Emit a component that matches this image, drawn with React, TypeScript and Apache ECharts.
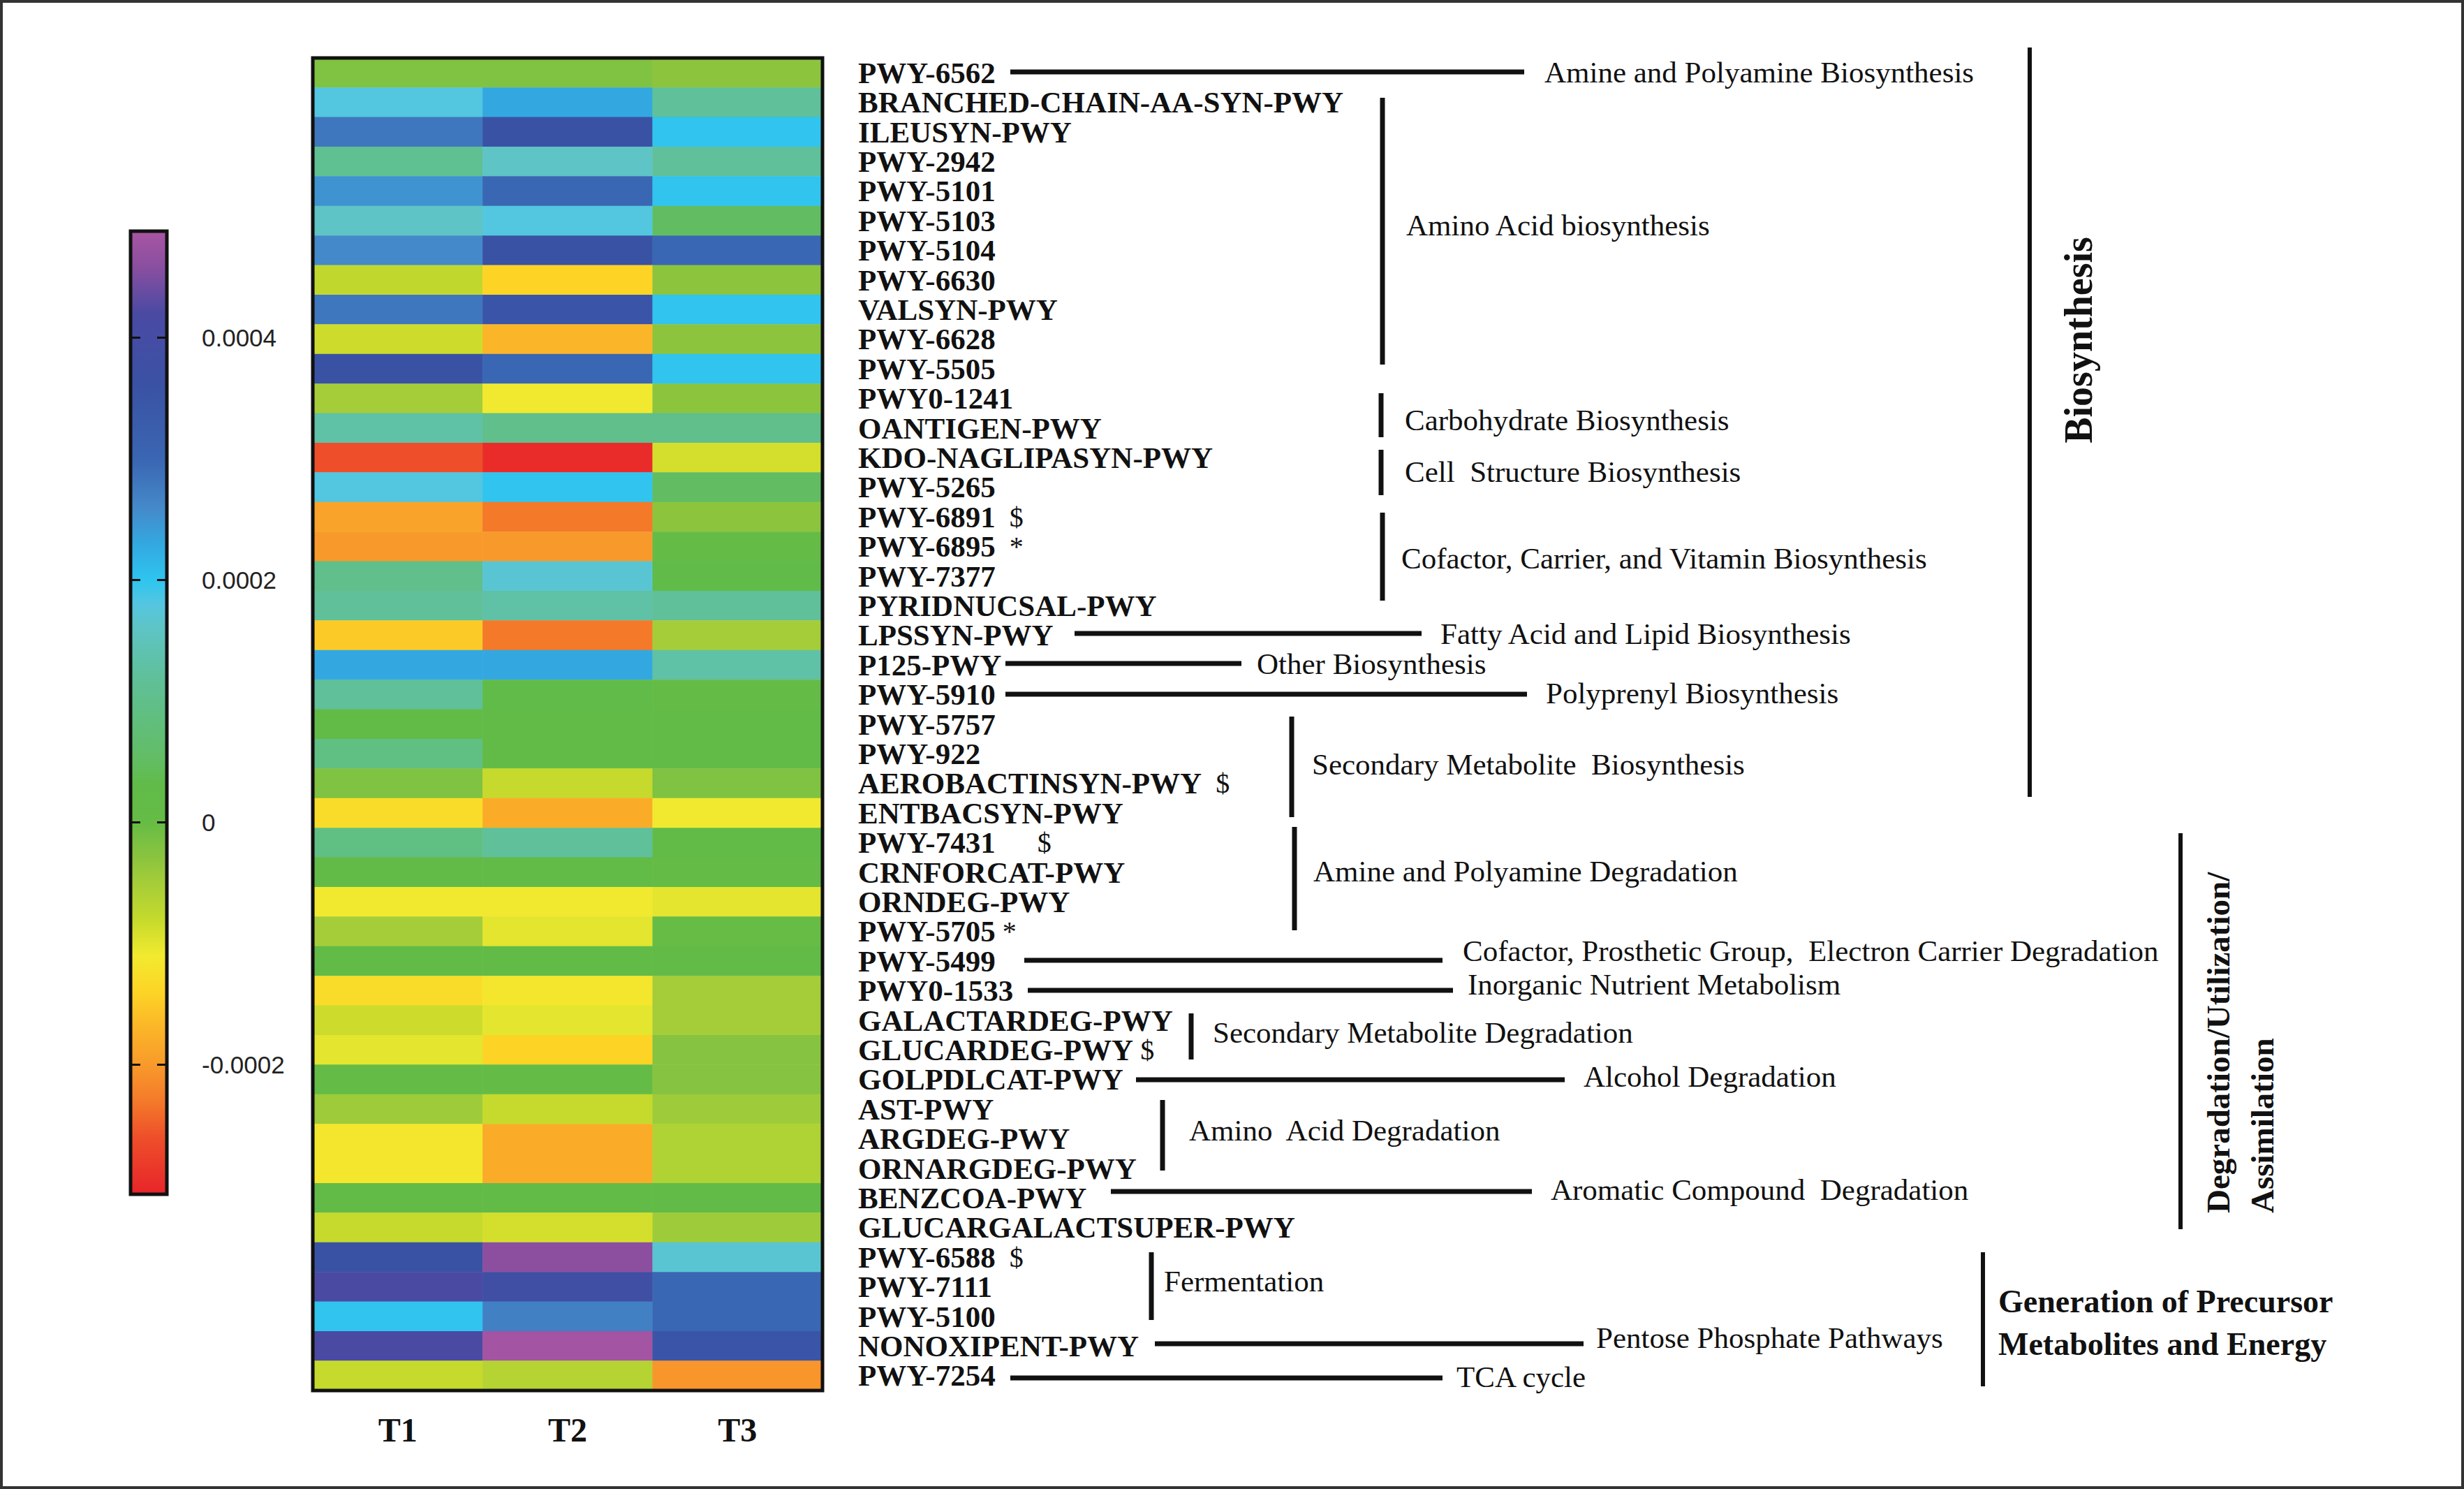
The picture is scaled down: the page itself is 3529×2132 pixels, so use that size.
import React, { useEffect, useRef } from 'react';
import * as echarts from 'echarts';

// ---------------- data ----------------
const PATHWAYS = [
  'PWY-6562', 'BRANCHED-CHAIN-AA-SYN-PWY', 'ILEUSYN-PWY', 'PWY-2942', 'PWY-5101',
  'PWY-5103', 'PWY-5104', 'PWY-6630', 'VALSYN-PWY', 'PWY-6628',
  'PWY-5505', 'PWY0-1241', 'OANTIGEN-PWY', 'KDO-NAGLIPASYN-PWY', 'PWY-5265',
  'PWY-6891', 'PWY-6895', 'PWY-7377', 'PYRIDNUCSAL-PWY', 'LPSSYN-PWY',
  'P125-PWY', 'PWY-5910', 'PWY-5757', 'PWY-922', 'AEROBACTINSYN-PWY',
  'ENTBACSYN-PWY', 'PWY-7431', 'CRNFORCAT-PWY', 'ORNDEG-PWY', 'PWY-5705',
  'PWY-5499', 'PWY0-1533', 'GALACTARDEG-PWY', 'GLUCARDEG-PWY', 'GOLPDLCAT-PWY',
  'AST-PWY', 'ARGDEG-PWY', 'ORNARGDEG-PWY', 'BENZCOA-PWY', 'GLUCARGALACTSUPER-PWY',
  'PWY-6588', 'PWY-7111', 'PWY-5100', 'NONOXIPENT-PWY', 'PWY-7254',
];

// significance markers appended after some pathway names
const MARKERS = [
  '', '', '', '', '', '', '', '', '', '',
  '', '', '', '', '', '  $', '  *', '', '', '',
  '', '', '', '', '  $', '', '      $', '', '', ' *',
  '', '', '', ' $', '', '', '', '', '', '',
  '  $', '', '', '', '',
];

const CONDITIONS = ['T1', 'T2', 'T3'];

const T1 = [
  -0.00002, 0.00018, 0.00028, 0.00011, 0.00025, 0.00016, 0.00026, -0.000075, 0.00028, -0.000085,
  0.00036, -0.00005, 0.00013, -0.00026, 0.00018, -0.00019, -0.0002, 0.0001, 0.00012, -0.00015,
  0.00023, 0.00012, 0.00002, 0.00009, -0.00002, -0.00013, 0.00009, 0.00002, -0.00011, -0.00005,
  0.00002, -0.00013, -0.000085, -0.0001, 0.00001, -0.000045, -0.000115, -0.000115, 0.00002, -0.00008,
  0.00036, 0.00042, 0.0002, 0.00042, -0.00008,
];
const T2 = [
  -0.00002, 0.00023, 0.00036, 0.00016, 0.0003, 0.00018, 0.00036, -0.00014, 0.00035, -0.00017,
  0.0003, -0.00011, 0.0001, -0.0003, 0.0002, -0.00023, -0.0002, 0.00017, 0.00013, -0.00023,
  0.00023, 0.00003, 0.00002, 0.00002, -0.00008, -0.00018, 0.00012, 0.00002, -0.00011, -0.0001,
  0.00002, -0.000115, -0.0001, -0.00014, 0.00001, -0.00008, -0.00018, -0.00018, 0.00002, -0.00009,
  0.00046, 0.00038, 0.00027, 0.000485, -0.000065,
];
const T3 = [
  -0.00003, 0.00012, 0.0002, 0.00012, 0.0002, 0.00005, 0.0003, -0.00003, 0.0002, -0.00003,
  0.0002, -0.00003, 0.0001, -0.00009, 0.00005, -0.00003, 0.00001, 0.00003, 0.00012, -0.00005,
  0.00013, 0.00001, 0.00002, 0.00002, -0.00002, -0.00011, 0.00002, 0.00001, -0.0001, 0.0,
  0.00002, -0.00005, -0.00005, -0.000025, -0.000025, -0.000045, -0.00006, -0.00006, 0.00002, -0.000045,
  0.00017, 0.0003, 0.0003, 0.00035, -0.000205,
];

const COLORBAR_MIN = -0.000307;
const COLORBAR_MAX = 0.000488;
const COLORBAR_TICKS = [-0.0002, 0, 0.0002, 0.0004];

// ---------------- style ----------------
const COLOR_STOPS: [number, string][] = [
  [-0.00031, '#e8242a'],
  [-0.00026, '#ee4f2a'],
  [-0.00023, '#f47a2a'],
  [-0.0002, '#f89a2b'],
  [-0.00017, '#fbb528'],
  [-0.00014, '#fdd426'],
  [-0.00011, '#f2ea2f'],
  [-0.00008, '#c5da2c'],
  [-0.00005, '#a5cd39'],
  [-0.00003, '#8cc43e'],
  [-0.00002, '#80c241'],
  [0.0, '#66bc45'],
  [0.00003, '#60bb48'],
  [0.00005, '#62bd62'],
  [0.0001, '#60bf8a'],
  [0.00012, '#5fc09a'],
  [0.00016, '#5ec4c5'],
  [0.00018, '#55c6e0'],
  [0.0002, '#2ec5f0'],
  [0.00023, '#33a8e0'],
  [0.00026, '#4589c9'],
  [0.0003, '#3a66b2'],
  [0.00036, '#3a52a4'],
  [0.00042, '#4a4aa3'],
  [0.00046, '#8c4fa0'],
  [0.00049, '#a855a3'],
];

const SERIF = '"Liberation Serif", "Times New Roman", serif';
const SANS = '"Liberation Sans", Arial, sans-serif';
const INK = '#111';

function hexToRgb(h: string) {
  const n = parseInt(h.slice(1), 16);
  return [(n >> 16) & 255, (n >> 8) & 255, n & 255];
}
function colorAt(v: number) {
  if (v <= COLOR_STOPS[0][0]) return COLOR_STOPS[0][1];
  for (let i = 1; i < COLOR_STOPS.length; i++) {
    const [v1, c1] = COLOR_STOPS[i];
    if (v <= v1) {
      const [v0, c0] = COLOR_STOPS[i - 1];
      const t = (v - v0) / (v1 - v0);
      const a = hexToRgb(c0), b = hexToRgb(c1);
      const r = a.map((x, k) => Math.round(x + (b[k] - x) * t));
      return `rgb(${r[0]},${r[1]},${r[2]})`;
    }
  }
  return COLOR_STOPS[COLOR_STOPS.length - 1][1];
}

// layout
const HM = { left: 448, top: 83, width: 730, height: 1908 };
const CB = { left: 187, top: 331, width: 52, height: 1379 };

const LINE_ANNOTATIONS = [
  { x1: 1447, x2: 2183, y: 103, label: 'Amine and Polyamine Biosynthesis', lx: 2212, ly: 103 },
  { x1: 1539, x2: 2036, y: 907, label: 'Fatty Acid and Lipid Biosynthesis', lx: 2063, ly: 907 },
  { x1: 1440, x2: 1778, y: 950, label: 'Other Biosynthesis', lx: 1800, ly: 950 },
  { x1: 1440, x2: 2187, y: 994, label: 'Polyprenyl Biosynthesis', lx: 2214, ly: 992 },
  { x1: 1467, x2: 2066, y: 1375, label: 'Cofactor, Prosthetic Group,  Electron Carrier Degradation', lx: 2095, ly: 1361 },
  { x1: 1472, x2: 2081, y: 1418, label: 'Inorganic Nutrient Metabolism', lx: 2102, ly: 1409 },
  { x1: 1627, x2: 2241, y: 1546, label: 'Alcohol Degradation', lx: 2268, ly: 1541 },
  { x1: 1591, x2: 2194, y: 1706, label: 'Aromatic Compound  Degradation', lx: 2221, ly: 1703 },
  { x1: 1654, x2: 2268, y: 1924, label: 'Pentose Phosphate Pathways', lx: 2286, ly: 1915 },
  { x1: 1447, x2: 2066, y: 1973, label: 'TCA cycle', lx: 2086, ly: 1971 },
];

const BRACKET_ANNOTATIONS = [
  { x: 1980, y1: 140, y2: 522, label: 'Amino Acid biosynthesis', lx: 2014, ly: 322 },
  { x: 1978, y1: 563, y2: 626, label: 'Carbohydrate Biosynthesis', lx: 2012, ly: 601 },
  { x: 1978, y1: 644, y2: 709, label: 'Cell  Structure Biosynthesis', lx: 2012, ly: 675 },
  { x: 1980, y1: 734, y2: 860, label: 'Cofactor, Carrier, and Vitamin Biosynthesis', lx: 2007, ly: 799 },
  { x: 1850, y1: 1026, y2: 1170, label: 'Secondary Metabolite  Biosynthesis', lx: 1879, ly: 1094 },
  { x: 1854, y1: 1184, y2: 1332, label: 'Amine and Polyamine Degradation', lx: 1881, ly: 1247 },
  { x: 1706, y1: 1451, y2: 1517, label: 'Secondary Metabolite Degradation', lx: 1737, ly: 1478 },
  { x: 1665, y1: 1575, y2: 1676, label: 'Amino  Acid Degradation', lx: 1703, ly: 1618 },
  { x: 1649, y1: 1793, y2: 1890, label: 'Fermentation', lx: 1667, ly: 1834 },
];

export default function App() {
  const ref = useRef<HTMLDivElement>(null);

  useEffect(() => {
    if (!ref.current) return;
    const chart = echarts.init(ref.current, undefined, { renderer: 'svg' });

    const heatData: [number, number, number][] = [];
    const cols = [T1, T2, T3];
    PATHWAYS.forEach((_, i) => {
      cols.forEach((col, j) => heatData.push([j, i, col[i]]));
    });

    const N = 200;
    const mapColors: string[] = [];
    for (let k = 0; k <= N; k++) {
      mapColors.push(colorAt(COLORBAR_MIN + (k * (COLORBAR_MAX - COLORBAR_MIN)) / N));
    }
    const gradStops = COLOR_STOPS
      .map(([v, c]) => ({ offset: Math.min(1, Math.max(0, (COLORBAR_MAX - v) / (COLORBAR_MAX - COLORBAR_MIN))), color: c }))
      .sort((a, b) => a.offset - b.offset);

    const graphics: any[] = [];
    graphics.push({
      type: 'rect', z: 100, silent: true,
      shape: { x: 2, y: 2, width: 3525, height: 2128 },
      style: { fill: 'none', stroke: '#333', lineWidth: 4 },
    });
    graphics.push({
      type: 'rect', z: 100, silent: true,
      shape: { x: HM.left, y: HM.top, width: HM.width, height: HM.height },
      style: { fill: 'none', stroke: INK, lineWidth: 5 },
    });
    const textStyle = (text: string, size: number, weight: string, align = 'left') => ({
      text, fontSize: size, fontFamily: SERIF, fontWeight: weight, fill: INK,
      align, verticalAlign: 'middle',
    });
    LINE_ANNOTATIONS.forEach((a) => {
      graphics.push({ type: 'line', z: 100, shape: { x1: a.x1, y1: a.y, x2: a.x2, y2: a.y }, style: { stroke: INK, lineWidth: 7 } });
      graphics.push({ type: 'text', z: 100, x: a.lx, y: a.ly, style: textStyle(a.label, 43, 'normal') });
    });
    BRACKET_ANNOTATIONS.forEach((a) => {
      graphics.push({ type: 'line', z: 100, shape: { x1: a.x, y1: a.y1, x2: a.x, y2: a.y2 }, style: { stroke: INK, lineWidth: 7 } });
      graphics.push({ type: 'text', z: 100, x: a.lx, y: a.ly, style: textStyle(a.label, 43, 'normal') });
    });
    // major category brackets
    graphics.push({ type: 'line', z: 100, shape: { x1: 2907, y1: 68, x2: 2907, y2: 1141 }, style: { stroke: INK, lineWidth: 6 } });
    graphics.push({ type: 'text', z: 100, x: 2977, y: 487, rotation: Math.PI / 2, style: textStyle('Biosynthesis', 56, 'bold', 'center') });
    graphics.push({ type: 'line', z: 100, shape: { x1: 3123, y1: 1193, x2: 3123, y2: 1760 }, style: { stroke: INK, lineWidth: 6 } });
    graphics.push({ type: 'text', z: 100, x: 3177, y: 1737, rotation: Math.PI / 2, style: textStyle('Degradation/Utilization/', 47, 'bold', 'left') });
    graphics.push({ type: 'text', z: 100, x: 3240, y: 1737, rotation: Math.PI / 2, style: textStyle('Assimilation', 47, 'bold', 'left') });
    graphics.push({ type: 'line', z: 100, shape: { x1: 2840, y1: 1793, x2: 2840, y2: 1985 }, style: { stroke: INK, lineWidth: 6 } });
    graphics.push({ type: 'text', z: 100, x: 2862, y: 1863, style: textStyle('Generation of Precursor', 46, 'bold') });
    graphics.push({ type: 'text', z: 100, x: 2862, y: 1924, style: textStyle('Metabolites and Energy', 46, 'bold') });

    const tickFmt = (v: number) => (Math.abs(v) < 1e-12 ? '0' : v.toFixed(4));

    chart.setOption({
      animation: false,
      backgroundColor: '#ffffff',
      grid: [
        { left: HM.left, top: HM.top, width: HM.width, height: HM.height },
        { left: CB.left, top: CB.top, width: CB.width, height: CB.height },
      ],
      xAxis: [
        {
          gridIndex: 0, type: 'category', data: CONDITIONS, position: 'bottom',
          axisLine: { show: false }, axisTick: { show: false }, splitLine: { show: false },
          axisLabel: { fontFamily: SERIF, fontWeight: 'bold', fontSize: 48, color: INK, margin: 32 },
        },
        { gridIndex: 1, type: 'value', min: 0, max: 1, show: false },
      ],
      yAxis: [
        {
          gridIndex: 0, type: 'category', data: PATHWAYS, inverse: true, position: 'right',
          axisLine: { show: false }, axisTick: { show: false }, splitLine: { show: false },
          axisLabel: {
            interval: 0, hideOverlap: false,
            fontFamily: SERIF, fontWeight: 'bold', fontSize: 43, color: INK, margin: 51, align: 'left',
            formatter: (value: string, index: number) =>
              MARKERS[index] ? `${value}{m|${MARKERS[index]}}` : value,
            rich: { m: { fontFamily: SERIF, fontWeight: 'normal', fontSize: 40, color: INK } },
          },
        },
        {
          gridIndex: 1, type: 'value', min: COLORBAR_MIN, max: COLORBAR_MAX, position: 'left', z: 10,
          axisLine: { show: false }, splitLine: { show: false },
          axisTick: { show: true, inside: true, length: 14, lineStyle: { color: INK, width: 3 }, customValues: COLORBAR_TICKS },
          axisLabel: { show: false, customValues: COLORBAR_TICKS },
        },
        {
          gridIndex: 1, type: 'value', min: COLORBAR_MIN, max: COLORBAR_MAX, position: 'right', z: 10,
          axisLine: { show: false }, splitLine: { show: false },
          axisTick: { show: true, inside: true, length: 14, lineStyle: { color: INK, width: 3 }, customValues: COLORBAR_TICKS },
          axisLabel: {
            show: true, customValues: COLORBAR_TICKS, formatter: tickFmt,
            fontFamily: SANS, fontSize: 35, color: '#222', margin: 50, align: 'left',
          },
        },
      ],
      visualMap: {
        type: 'continuous', show: false, seriesIndex: 0, dimension: 2,
        min: COLORBAR_MIN, max: COLORBAR_MAX,
        inRange: { color: mapColors },
      },
      series: [
        {
          type: 'heatmap', xAxisIndex: 0, yAxisIndex: 0, data: heatData,
          itemStyle: { borderWidth: 0 }, emphasis: { disabled: true }, progressive: 0,
        },
        {
          type: 'custom', xAxisIndex: 1, yAxisIndex: 1, z: 2, silent: true,
          data: [[0, COLORBAR_MAX]],
          renderItem: (params: any, api: any) => {
            const top = api.coord([0, COLORBAR_MAX]);
            const bottom = api.coord([0, COLORBAR_MIN]);
            const cs = params.coordSys;
            return {
              type: 'rect',
              shape: { x: cs.x, y: top[1], width: cs.width, height: bottom[1] - top[1] },
              style: {
                fill: new echarts.graphic.LinearGradient(0, 0, 0, 1, gradStops),
                stroke: INK, lineWidth: 5,
              },
            };
          },
        },
      ],
      graphic: { elements: graphics },
    });

    return () => chart.dispose();
  }, []);

  return (
    <div
      ref={ref}
      style={{ position: 'fixed', left: 0, top: 0, width: 3529, height: 2132, background: '#fff' }}
    />
  );
}
